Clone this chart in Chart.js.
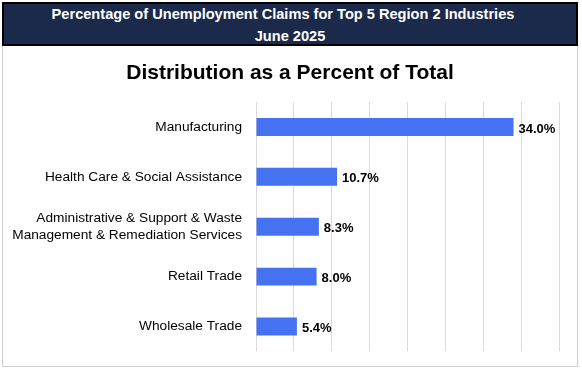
<!DOCTYPE html>
<html>
<head>
<meta charset="utf-8">
<script src="https://cdn.jsdelivr.net/npm/chart.js@4"></script>
<style>
  body { margin: 0; background: #fff; font-family: "Liberation Sans", Arial, sans-serif; }
  #header {
    position: absolute; left: 2px; top: 2px; width: 572px; height: 40px;
    background: #1b2a4a; border: 2px solid #000;
    color: #fff; font-weight: bold; font-size: 14.6px; line-height: 22px; text-align: center;
  }
  #header .l1 { padding-right: 14px; margin-top: -1px; }
  #panel {
    position: absolute; left: 2px; top: 46px; width: 574px; height: 320px;
    border: 1px solid #d0d0d0; border-top: none;
  }
  #chartTitle {
    position: absolute; left: 0; top: 13px; width: 574px; text-align: center;
    font-size: 21px; font-weight: bold; color: #000; line-height: 26px;
  }
  canvas { position: absolute; left: 0; top: 0; }
</style>
</head>
<body>
<div id="header"><div class="l1">Percentage of Unemployment Claims for Top 5 Region 2 Industries</div><div>June 2025</div></div>
<div id="panel">
  <canvas id="industryChart" width="574" height="320"></canvas>
  <div id="chartTitle">Distribution as a Percent of Total</div>
</div>
<script>
const industries = [
    'Manufacturing',
    'Health Care & Social Assistance',
    ['Administrative & Support & Waste', 'Management & Remediation Services'],
    'Retail Trade',
    'Wholesale Trade'
];
const percents = [34.0, 10.7, 8.3, 8.0, 5.4];

// draws the value next to the end of each bar
const valueLabels = {
    id: 'valueLabels',
    afterDatasetsDraw(chart) {
        const ctx = chart.ctx;
        const meta = chart.getDatasetMeta(0);
        ctx.save();
        ctx.font = 'bold 13px "Liberation Sans", Arial';
        ctx.fillStyle = '#000';
        ctx.textBaseline = 'middle';
        meta.data.forEach((bar, i) => {
            ctx.fillText(percents[i].toFixed(1) + '%', bar.x + 5, bar.y + 2);
        });
        ctx.restore();
    }
};

const ctx = document.getElementById('industryChart').getContext('2d');
const industryChart = new Chart(ctx, {
    type: 'bar',
    data: {
        labels: industries,
        datasets: [{
            data: percents,
            backgroundColor: '#4472f0',
            barPercentage: 0.9,
            categoryPercentage: 0.4
        }]
    },
    options: {
        indexAxis: 'y',
        responsive: false,
        animation: false,
        layout: { padding: { left: 0, right: 18, top: 56, bottom: 8 } },
        plugins: {
            legend: { display: false },
            tooltip: { enabled: false },
            title: { display: false }
        },
        scales: {
            x: {
                min: 0,
                max: 40,
                ticks: { display: false, stepSize: 5 },
                grid: { color: '#d9d9d9', drawTicks: false },
                border: { display: false }
            },
            y: {
                afterFit(axis) { axis.width = 253; },
                ticks: {
                    color: '#000',
                    padding: 6,
                    font: { family: '"Liberation Sans", Arial', size: 13.7, lineHeight: 1.25 }
                },
                grid: { display: false },
                border: { display: false }
            }
        }
    },
    plugins: [valueLabels]
});
</script>
</body>
</html>
